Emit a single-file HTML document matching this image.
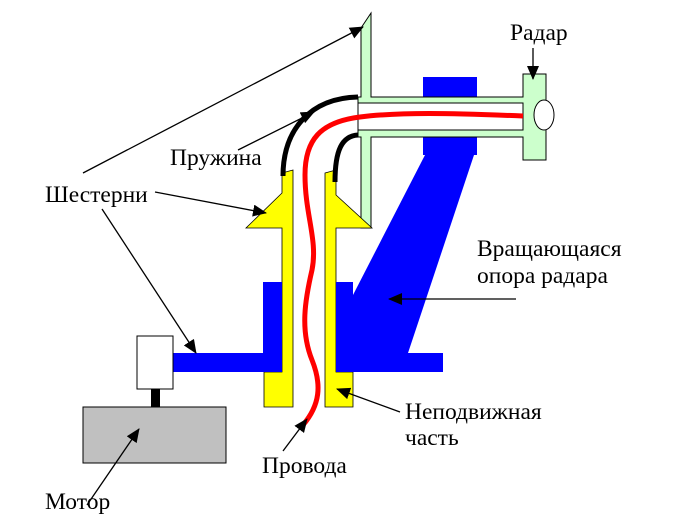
<!DOCTYPE html>
<html><head><meta charset="utf-8"><style>
body{margin:0;background:#fff}
svg{display:block}
text{font-family:"Liberation Serif","DejaVu Serif",serif;font-size:23.5px;fill:#000}
</style></head><body>
<svg width="697" height="528" viewBox="0 0 697 528" xmlns="http://www.w3.org/2000/svg">
<defs>
<marker id="a" markerWidth="14" markerHeight="12" refX="13" refY="6" orient="auto" markerUnits="userSpaceOnUse">
<path d="M0,0 L14,6 L0,12 z" fill="#000"/></marker>
</defs>
<polygon points="425,155 474,155 408,353 353,353 353,295" fill="#0000ff"/>
<rect x="423" y="77" width="54" height="20" fill="#0000ff"/>
<rect x="423" y="137" width="54" height="18" fill="#0000ff"/>
<path d="M361,28 L371,13 L371,97 L523,97 L523,74 L546,74 L546,160 L523,160 L523,137 L371,137 L371,228 L361,228 L361,137 L358,137 L358,97 L361,97 Z" fill="#ccffcc" stroke="#000" stroke-width="1"/>
<rect x="358" y="103" width="165" height="27" fill="#fff" stroke="#000" stroke-width="1"/>
<ellipse cx="544" cy="115" rx="10" ry="15" fill="#fff" stroke="#000"/>
<path d="M282,173 L293,170 L293,407 L264,407 L264,372 L282,372 L282,228 L246,228 L282,193 Z" fill="#ffff00" stroke="#000" stroke-width="0.8"/>
<path d="M325,173 L336,170 L336,195 L372,228 L336,228 L336,372 L353,372 L353,407 L325,407 Z" fill="#ffff00" stroke="#000" stroke-width="0.8"/>
<path d="M263,282 L282,282 L282,372 L173,372 L173,353 L263,353 Z" fill="#0000ff"/>
<path d="M336,282 L353,282 L353,353 L443,353 L443,372 L336,372 Z" fill="#0000ff"/>
<path d="M283,176 C283,130 310,98 358,97" fill="none" stroke="#000" stroke-width="5"/>
<path d="M335,182 C335,150 342,136 358,135" fill="none" stroke="#000" stroke-width="5"/>
<path d="M523,116 C450,113 400,112 360,117 C320,122 305,140 305,175 C305,215 318,240 312,270 C305,300 300,330 312,360 C322,385 320,405 303,425" fill="none" stroke="#ff0000" stroke-width="5"/>
<rect x="137" y="336" width="36" height="53" fill="#fff" stroke="#000"/>
<rect x="151" y="389" width="9" height="19" fill="#000"/>
<rect x="83" y="407" width="143" height="56" fill="#c0c0c0" stroke="#000"/>
<g stroke="#000" stroke-width="1.3" fill="none" marker-end="url(#a)">
<line x1="533" y1="48" x2="533" y2="79"/>
<line x1="83" y1="173" x2="363" y2="27"/>
<line x1="155" y1="192" x2="266" y2="213"/>
<line x1="102" y1="209" x2="196" y2="353"/>
<line x1="238" y1="150" x2="314" y2="112"/>
<line x1="516" y1="299" x2="389" y2="299"/>
<line x1="400" y1="412" x2="337" y2="389"/>
<line x1="283" y1="451" x2="307" y2="419"/>
<line x1="87" y1="505" x2="139" y2="429"/>
</g>
<text x="510" y="40">Радар</text>
<text x="170" y="165">Пружина</text>
<text x="45" y="202">Шестерни</text>
<text x="477" y="256">Вращающаяся</text>
<text x="477" y="283">опора радара</text>
<text x="405" y="419">Неподвижная</text>
<text x="405" y="445">часть</text>
<text x="262" y="473">Провода</text>
<text x="45" y="509">Мотор</text>
</svg>
</body></html>
